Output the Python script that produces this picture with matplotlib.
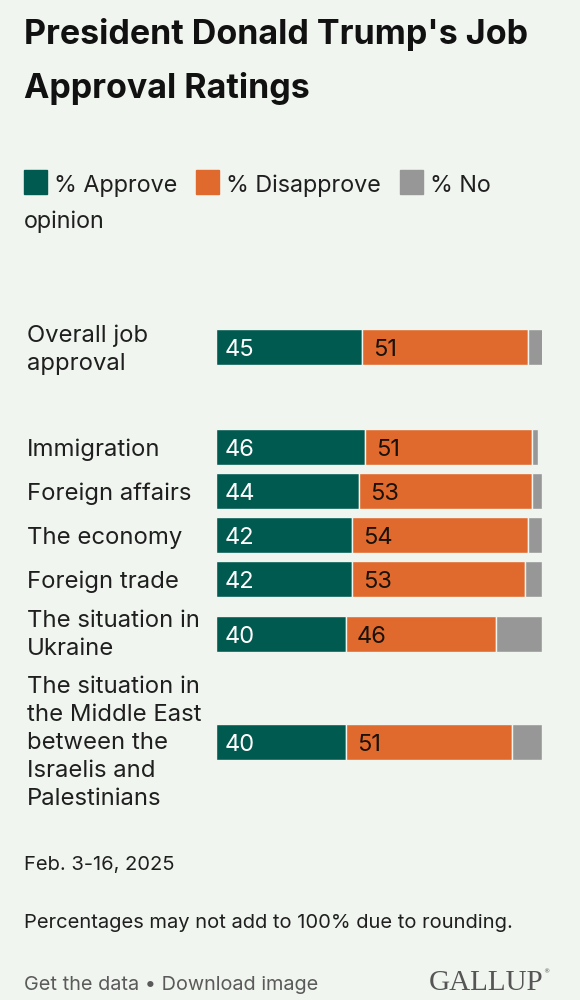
import matplotlib.pyplot as plt

categories = ["Overall job\napproval", "Immigration", "Foreign affairs", "The economy",
              "Foreign trade", "The situation in\nUkraine",
              "The situation in\nthe Middle East\nbetween the\nIsraelis and\nPalestinians"]
approve = [45, 46, 44, 42, 42, 40, 40]
disapprove = [51, 51, 53, 54, 53, 46, 51]
no_opinion = [5, 2, 3, 4, 5, 14, 9]

# layout (pixel rows, y from top)
row_y = [347, 447, 491, 535, 579, 634, 742]
label_y = [342, 456, 500, 544, 588, 627, 693]

GREEN = "#005a50"
ORANGE = "#e06a2e"
GREY = "#979797"
BG = "#f0f5ef"
INK = "#1f1f1f"
FONT = "Inter"

W, H = 580, 1000
fig = plt.figure(figsize=(W / 100, H / 100), dpi=100)
fig.patch.set_facecolor(BG)


def px(x, y, s, **kw):
    kw.setdefault("family", FONT)
    kw.setdefault("color", INK)
    kw.setdefault("va", "baseline")
    fig.text(x / W, 1 - y / H, s, **kw)


# title
px(24, 44, "President Donald Trump's Job", fontsize=24.5, weight="bold", color="#111111")
px(24, 98, "Approval Ratings", fontsize=24.5, weight="bold", color="#111111")

# legend
leg = fig.add_axes([0, 0, 1, 1], facecolor="none")
leg.set_xlim(0, W)
leg.set_ylim(H, 0)
leg.axis("off")
for x0, c, t in [(24, GREEN, "% Approve"), (196, ORANGE, "% Disapprove"), (400, GREY, "% No")]:
    leg.add_patch(plt.Rectangle((x0, 170), 23, 24, color=c))
    px(x0 + 30, 192, t, fontsize=16.8)
px(24, 228, "opinion", fontsize=16.8)

# bars
ax = fig.add_axes([215.5 / W, 0, 326 / W, 1], facecolor="none")
ax.set_xlim(0, 100)
ax.set_ylim(H, 0)
ax.axis("off")
bh = 36
ax.barh(row_y, approve, height=bh, color=GREEN, edgecolor=BG, linewidth=1.0)
ax.barh(row_y, disapprove, left=approve, height=bh, color=ORANGE, edgecolor=BG, linewidth=1.0)
left2 = [a + d for a, d in zip(approve, disapprove)]
ax.barh(row_y, no_opinion, left=left2, height=bh, color=GREY, edgecolor=BG, linewidth=1.0)

for y, a, d in zip(row_y, approve, disapprove):
    ax.text(2.8, y + 9, str(a), color="white", fontsize=17, family=FONT, va="baseline")
    ax.text(a + 3.3, y + 9, str(d), color="#1a1208", fontsize=17, family=FONT, va="baseline")

# category labels
for lab, y in zip(categories, label_y):
    for i, line in enumerate(lab.split("\n")):
        px(27, y + 28 * i, line, fontsize=17.2)

# footer
px(24, 870, "Feb. 3-16, 2025", fontsize=14.5)
px(24, 928, "Percentages may not add to 100% due to rounding.", fontsize=14.5)
px(24, 990, "Get the data \u2022 Download image", fontsize=14.3, color="#5a5a5a")
px(429, 990, "GALLUP", fontsize=21, family="Liberation Serif", color="#555555")
px(543, 973, "\u00ae", fontsize=4.5, family="DejaVu Sans", color="#555555")

fig.savefig("out.png", dpi=100, facecolor=BG)
